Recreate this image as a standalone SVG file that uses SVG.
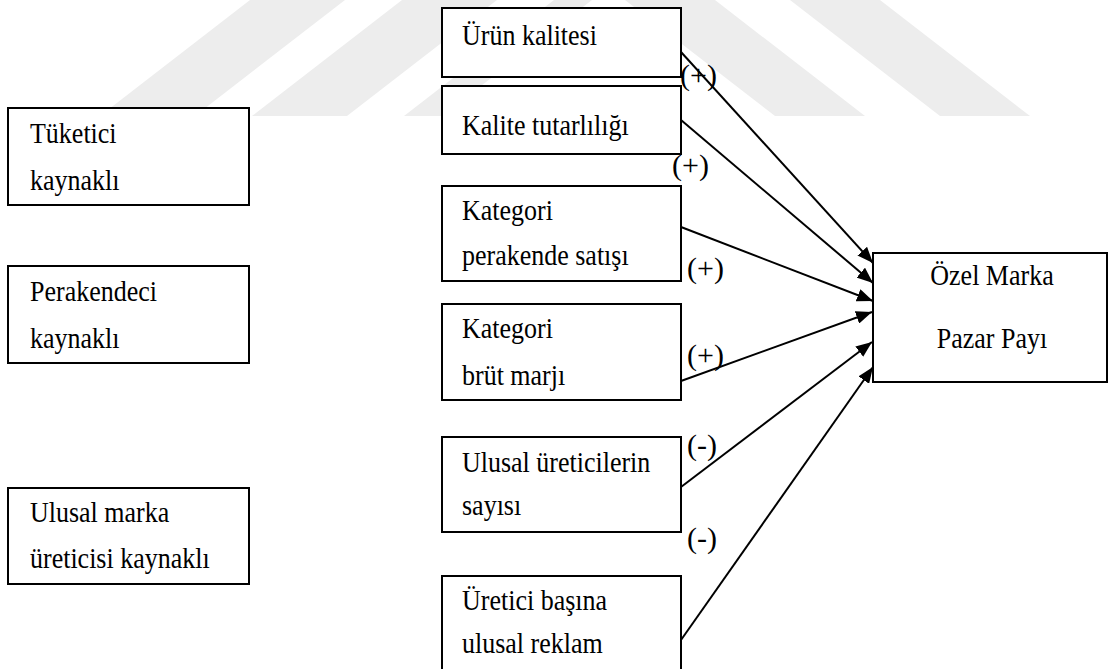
<svg xmlns="http://www.w3.org/2000/svg" width="1109" height="669" viewBox="0 0 1109 669">
<defs>
<style>
.box{fill:#fff;stroke:#000;stroke-width:2}
.t{font-family:"Liberation Serif","Times New Roman",serif;font-size:28.5px;fill:#000}
.lbl{font-family:"Liberation Serif","Times New Roman",serif;font-size:30px;fill:#000}
.wm{fill:#ededed}
.arr{stroke:#000;stroke-width:2;fill:none;marker-end:url(#ah)}
</style>
<marker id="ah" markerUnits="userSpaceOnUse" markerWidth="17" markerHeight="13" refX="16" refY="6.5" orient="auto">
<path d="M0,0 L16,6.5 L0,13 z" fill="#000"/>
</marker>
</defs>
<rect width="1109" height="669" fill="#fff"/>
<g id="watermark">
<polygon class="wm" points="100,116 195,116 345,0 250,0"/>
<polygon class="wm" points="252,116 347,116 497,0 402,0"/>
<polygon class="wm" points="404,116 442,116 592,0 554,0"/>
<polygon class="wm" points="625,0 715,0 865,116 775,116"/>
<polygon class="wm" points="790,0 880,0 1030,116 940,116"/>
</g>
<g id="src-tuketici">
<rect class="box" x="8" y="108" width="241" height="97"/>
<text class="t" transform="translate(30,143) scale(0.912,1)">Tüketici</text>
<text class="t" transform="translate(30,190) scale(0.912,1)">kaynaklı</text>
</g>
<g id="src-perakendeci">
<rect class="box" x="8" y="266" width="241" height="97"/>
<text class="t" transform="translate(30,301) scale(0.912,1)">Perakendeci</text>
<text class="t" transform="translate(30,348) scale(0.912,1)">kaynaklı</text>
</g>
<g id="src-ulusal">
<rect class="box" x="8" y="488" width="241" height="96"/>
<text class="t" transform="translate(30,522) scale(0.912,1)">Ulusal marka</text>
<text class="t" transform="translate(30,568) scale(0.912,1)">üreticisi kaynaklı</text>
</g>
<g id="f-urun">
<rect class="box" x="442" y="8" width="239" height="69"/>
<text class="t" transform="translate(462,45) scale(0.912,1)">Ürün kalitesi</text>
</g>
<g id="f-kalite">
<rect class="box" x="442" y="86" width="239" height="68"/>
<text class="t" transform="translate(462,135) scale(0.912,1)">Kalite tutarlılığı</text>
</g>
<g id="f-perakende">
<rect class="box" x="442" y="186" width="239" height="95"/>
<text class="t" transform="translate(462,220) scale(0.912,1)">Kategori</text>
<text class="t" transform="translate(462,265) scale(0.912,1)">perakende satışı</text>
</g>
<g id="f-brut">
<rect class="box" x="442" y="304" width="239" height="96"/>
<text class="t" transform="translate(462,338) scale(0.912,1)">Kategori</text>
<text class="t" transform="translate(462,385) scale(0.912,1)">brüt marjı</text>
</g>
<g id="f-ureticiler">
<rect class="box" x="442" y="437" width="239" height="95"/>
<text class="t" transform="translate(462,472) scale(0.912,1)">Ulusal üreticilerin</text>
<text class="t" transform="translate(462,515) scale(0.912,1)">sayısı</text>
</g>
<g id="f-reklam">
<rect class="box" x="442" y="576" width="239" height="100"/>
<text class="t" transform="translate(462,610) scale(0.912,1)">Üretici başına</text>
<text class="t" transform="translate(462,653) scale(0.912,1)">ulusal reklam</text>
</g>
<g id="target">
<rect class="box" x="873" y="253" width="234" height="129"/>
<text class="t" text-anchor="middle" transform="translate(992,285) scale(0.912,1)">Özel Marka</text>
<text class="t" text-anchor="middle" transform="translate(992,348) scale(0.912,1)">Pazar Payı</text>
</g>
<g id="connectors">
<line class="arr" x1="681" y1="52" x2="873" y2="263"/>
<line class="arr" x1="681" y1="120" x2="873" y2="283"/>
<line class="arr" x1="681" y1="227" x2="873" y2="301"/>
<line class="arr" x1="681" y1="381" x2="872" y2="312"/>
<line class="arr" x1="681" y1="487" x2="872" y2="342"/>
<line class="arr" x1="681" y1="640" x2="873" y2="367"/>
</g>
<g id="labels">
<text class="lbl" x="680" y="85">(+)</text>
<text class="lbl" x="672" y="175">(+)</text>
<text class="lbl" x="687" y="278">(+)</text>
<text class="lbl" x="687" y="365">(+)</text>
<text class="lbl" x="687" y="455">(-)</text>
<text class="lbl" x="687" y="548">(-)</text>
</g>
</svg>
